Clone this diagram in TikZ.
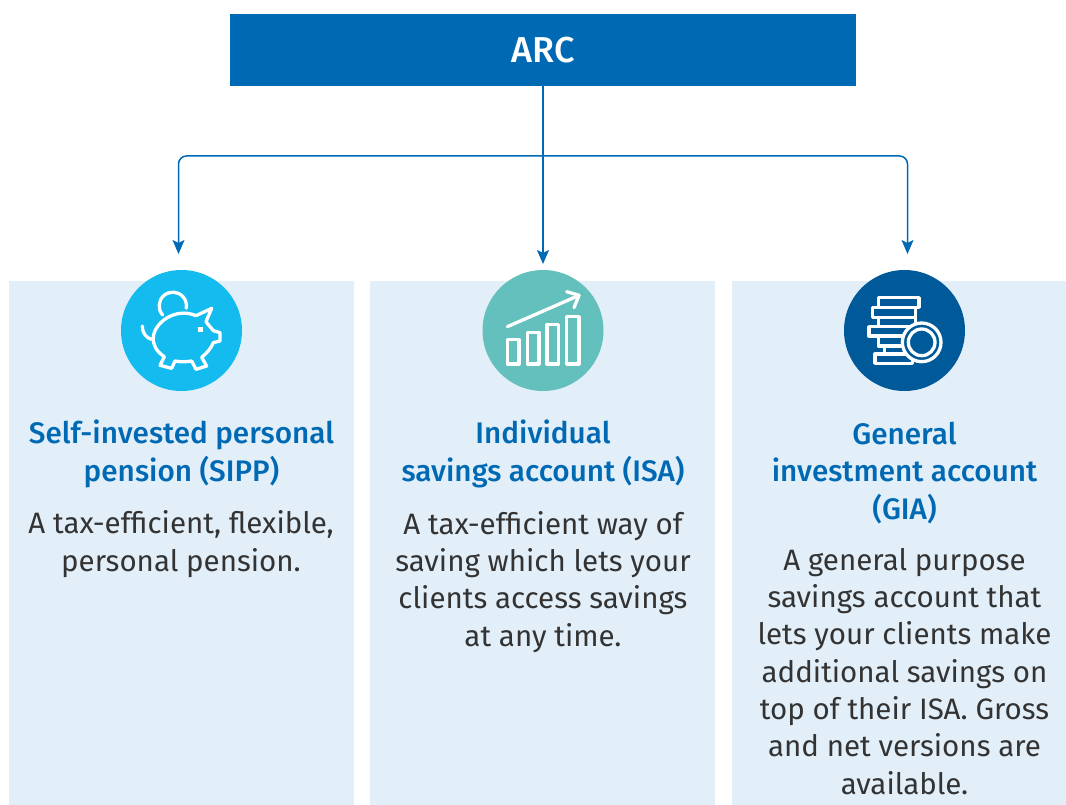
\documentclass[tikz,border=0pt]{standalone}
\usepackage{fontspec}
\setmainfont{Fira Sans}
\newfontfamily\mediumfont{Fira Sans Medium}
\usetikzlibrary{arrows.meta}

\definecolor{arcblue}{HTML}{0069B4}
\definecolor{panelblue}{HTML}{E2EEF8}
\definecolor{skyblue}{HTML}{14BBEE}
\definecolor{tealgreen}{HTML}{63C0BC}
\definecolor{navyblue}{HTML}{005A9A}

\tikzset{
  panel/.style={fill=panelblue, minimum height=524pt, inner sep=0pt, outer sep=0pt},
  badge/.style={circle, minimum size=121pt, inner sep=0pt},
  link/.style={draw=arcblue, line width=1.5pt, -{Stealth[length=14pt,width=12pt,inset=3pt]}},
  title/.style={font=\fontsize{29.7}{37.3}\selectfont\mediumfont, text=arcblue, align=center, anchor=base, inner sep=0pt},
  body/.style={font=\fontsize{29.5}{37.3}\selectfont, text=black!80, align=center, anchor=base, inner sep=0pt},
  icon/.style={draw=white, line width=3.3pt, line join=round, line cap=round}
}

\begin{document}
\begin{tikzpicture}[x=1pt,y=-1pt]
\useasboundingbox (0,0) rectangle (1066,805);

\node[fill=arcblue, minimum width=626pt, minimum height=72pt, inner sep=0pt, outer sep=0pt, text=white, font=\fontsize{36}{40}\selectfont\mediumfont] (arc) at (543,50) {ARC};

\node[panel, minimum width=345pt] (sipp) at (181.5,543) {};
\node[panel, minimum width=345pt] (isa) at (542.5,543) {};
\node[panel, minimum width=334pt] (gia) at (899,543) {};

\node[badge, fill=skyblue] (pig) at (181.5,330.5) {};
\node[badge, fill=tealgreen] (chart) at (543,330.5) {};
\node[badge, fill=navyblue] (coins) at (904.5,330.5) {};

% arrows
\coordinate (bus) at (543,156);
\coordinate (tip_sipp) at (178.5,254);
\coordinate (tip_isa) at (543,264);
\coordinate (tip_gia) at (907.5,254);
\draw[link] (arc.south) -- (tip_isa);
\draw[link, rounded corners=8pt] (bus) -| (tip_sipp);
\draw[link, rounded corners=8pt] (bus) -| (tip_gia);

% piggy bank
\begin{scope}[shift={(100,260)},x=1/3*1pt,y=-1/3*1pt]
\draw[icon] (188,165) arc[start angle=222,end angle=-10,x radius=41,y radius=-41];
\draw[icon] (288,167) -- (335,145) -- (318,185) .. controls (325,195) and (335,205) .. (340,212)
  -- (360,218) -- (360,243) -- (340,248) .. controls (333,265) and (320,280) .. (305,292)
  -- (320,318) -- (288,328) -- (275,303) .. controls (258,306) and (240,306) .. (225,303)
  -- (215,325) -- (180,316) -- (193,290) .. controls (170,275) and (158,255) .. (160,232)
  .. controls (162,190) and (225,140) .. (288,167) -- cycle;
\draw[icon] (127,198) .. controls (127,220) and (140,235) .. (155,238);
\fill[white] (294,201) rectangle (308,216);
\end{scope}

% growth chart
\begin{scope}[shift={(465,260)},x=1/3*1pt,y=-1/3*1pt]
\draw[icon] (127,200) -- (338,108);
\draw[icon] (305,95) -- (342,106) -- (327,143);
\draw[icon] (127,238) rectangle (162,312);
\draw[icon] (187,217) rectangle (222,312);
\draw[icon] (246,193) rectangle (281,312);
\draw[icon] (305,170) rectangle (342,312);
\end{scope}

% coin stack
\begin{scope}[shift={(825,260)},x=1/3*1pt,y=-1/3*1pt]
\draw[icon] (160,113) rectangle (282,142);
\draw[icon] (142,143) rectangle (272,172);
\draw[icon] (160,172) rectangle (272,200);
\draw[icon] (132,200) rectangle (262,228);
\draw[icon] (160,228) rectangle (262,258);
\draw[icon] (178,258) rectangle (262,282);
\draw[icon] (150,282) rectangle (262,310);
\draw[icon, fill=navyblue] (290,247) circle[radius=58];
\draw[icon] (290,247) circle[radius=40];
\end{scope}

% texts
\node[title] (sipp_title) at (181.5,481) {Self-invested personal\\pension (SIPP)};
\node[body] (sipp_text) at (181,571) {A tax-efficient, flexible,\\personal pension.};
\node[title] (isa_title) at (543,481) {Individual\\savings account (ISA)};
\node[body] (isa_text) at (543,646) {A tax-efficient way of\\saving which lets your\\clients access savings\\at any time.};
\node[title] (gia_title) at (904.5,519) {General\\investment account\\(GIA)};
\node[body] (gia_text) at (904.5,794) {A general purpose\\savings account that\\lets your clients make\\additional savings on\\top of their ISA. Gross\\and net versions are\\available.};
\end{tikzpicture}
\end{document}
